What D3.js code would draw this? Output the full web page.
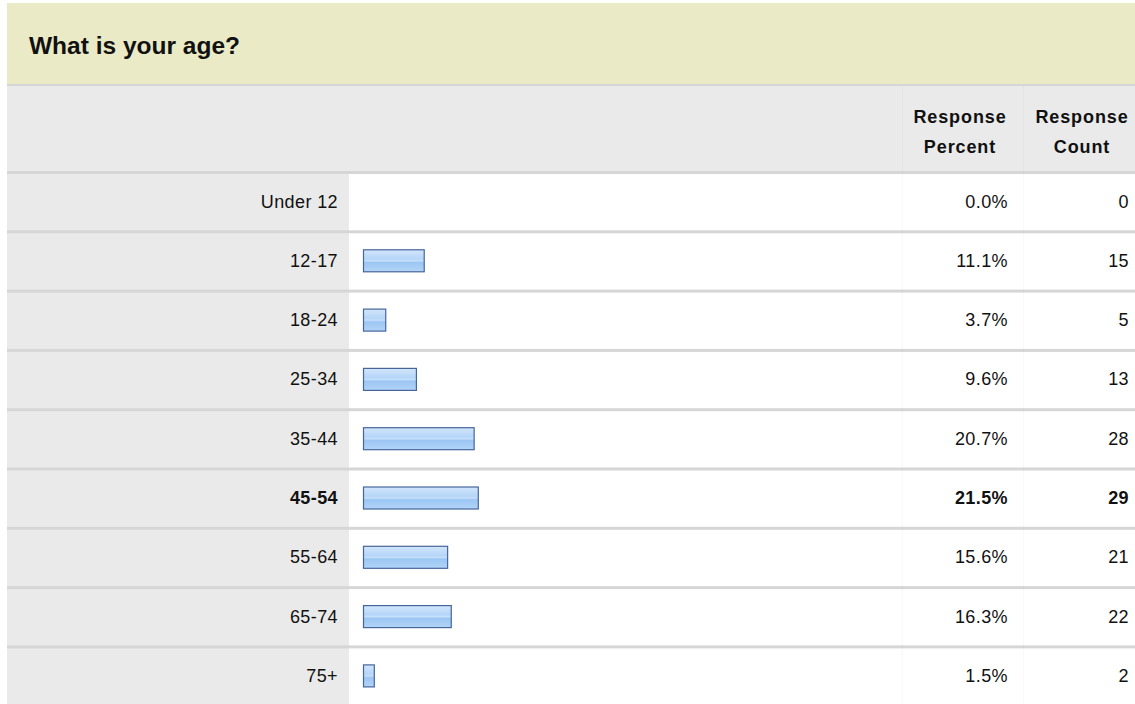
<!DOCTYPE html>
<html>
<head>
<meta charset="utf-8">
<script src="https://cdn.jsdelivr.net/npm/d3@7"></script>
<style>
    html, body { margin: 0; padding: 0; background: #fff; }
    svg { display: block; font-family: "Liberation Sans", Arial, Helvetica, sans-serif; }
</style>
</head>
<body>
<div id="chart"></div>
<script>
//Datos
const title = 'What is your age?';
const categories = ['Under 12', '12-17', '18-24', '25-34', '35-44', '45-54', '55-64', '65-74', '75+'];
const percents = [0.0, 11.1, 3.7, 9.6, 20.7, 21.5, 15.6, 16.3, 1.5];
const counts = [0, 15, 5, 13, 28, 29, 21, 22, 2];
const headPercent = ['Response', 'Percent'];
const headCount = ['Response', 'Count'];

//Colores fijos
const COLOR_TITLE_BG = '#EAEBC6',
COLOR_GRAY = '#EAEAEA',
COLOR_LINE = '#D6D6D6',
COLOR_BAR_STROKE = '#46659A';

const width = 1135, height = 704;
const left = 7, titleTop = 3, titleBottom = 84, headTop = 86, rowsTop = 173, rowH = 59.3;
const colLabel = 349, colPct = 902, colCount = 1023;

let svg = d3.select('#chart')
    .append('svg')
        .attr('width', width)
        .attr('height', height);

//Degradado de las barras
let grad = svg.append('defs').append('linearGradient')
    .attr('id', 'barGrad')
    .attr('x1', 0).attr('y1', 0).attr('x2', 0).attr('y2', 1);
[[0, '#d3e6fc'], [0.42, '#b5d5f8'], [0.5, '#c6e0fb'], [0.58, '#9cc6f3'], [1, '#b2d4f8']].forEach(function(s) {
    grad.append('stop').attr('offset', s[0]).attr('stop-color', s[1]);
});

//Cabecera
svg.append('rect')
    .attr('x', left).attr('y', titleTop)
    .attr('width', width - left).attr('height', titleBottom - titleTop)
    .attr('fill', COLOR_TITLE_BG);

svg.append('text')
    .attr('x', 29).attr('y', 54)
    .attr('font-size', '24.5px')
    .attr('font-weight', 'bold')
    .attr('fill', '#111')
    .text(title);

svg.append('rect')
    .attr('x', left).attr('y', titleBottom)
    .attr('width', width - left).attr('height', rowsTop - titleBottom)
    .attr('fill', COLOR_GRAY);

svg.append('rect')
    .attr('x', left).attr('y', titleBottom)
    .attr('width', width - left).attr('height', 2)
    .attr('fill', COLOR_LINE);

[[headPercent, 960], [headCount, 1082]].forEach(function(h) {
    let t = svg.append('text')
        .attr('text-anchor', 'middle')
        .attr('font-size', '18px')
        .attr('font-weight', 'bold')
        .attr('letter-spacing', '0.9px')
        .attr('fill', '#111');
    h[0].forEach(function(line, i) {
        t.append('tspan').attr('x', h[1]).attr('y', 123 + i * 30).text(line);
    });
});

//Escalas
let y = d3.scaleBand()
    .domain(categories)
    .range([rowsTop, rowsTop + rowH * categories.length]);

let x = d3.scaleLinear()
    .domain([0, 100])
    .range([0, 520]);

let maxPct = d3.max(percents);

let rows = svg.append('g')
    .selectAll('g')
    .data(categories)
    .enter()
    .append('g')
    .attr('transform', function(d) { return 'translate(0,' + y(d) + ')'; });

//Fondo filas
rows.append('rect')
    .attr('x', left).attr('y', 0)
    .attr('width', colLabel - left).attr('height', rowH)
    .attr('fill', COLOR_GRAY);

rows.append('rect')
    .attr('x', left).attr('y', -2)
    .attr('width', width - left).attr('height', 3)
    .attr('fill', COLOR_LINE);

//Barras
rows.filter(function(d, i) { return percents[i] > 0; })
    .append('rect')
    .attr('x', 363.5)
    .attr('y', 17.5)
    .attr('width', function(d) { return x(percents[categories.indexOf(d)]) + 3; })
    .attr('height', 22)
    .attr('fill', 'url(#barGrad)')
    .attr('stroke', COLOR_BAR_STROKE)
    .attr('stroke-width', 1.2);

function isMax(d) { return percents[categories.indexOf(d)] === maxPct; }

//Textos
rows.append('text')
    .attr('x', 338).attr('y', 34.5)
    .attr('text-anchor', 'end')
    .text(function(d) { return d; });

rows.append('text')
    .attr('x', 1008).attr('y', 34.5)
    .attr('text-anchor', 'end')
    .text(function(d, i) { return percents[i].toFixed(1) + '%'; });

rows.append('text')
    .attr('x', 1129).attr('y', 34.5)
    .attr('text-anchor', 'end')
    .text(function(d, i) { return counts[i]; });

rows.selectAll('text')
    .attr('font-size', '18px')
    .attr('letter-spacing', '0.4px')
    .attr('fill', '#111')
    .attr('font-weight', function() { return isMax(d3.select(this.parentNode).datum()) ? 'bold' : 'normal'; });

//Separadores verticales suaves
[colPct, colCount].forEach(function(cx) {
    svg.append('rect')
        .attr('x', cx).attr('y', headTop)
        .attr('width', 1).attr('height', height - headTop)
        .attr('fill', '#000')
        .attr('opacity', 0.025);
});
</script>
</body>
</html>
